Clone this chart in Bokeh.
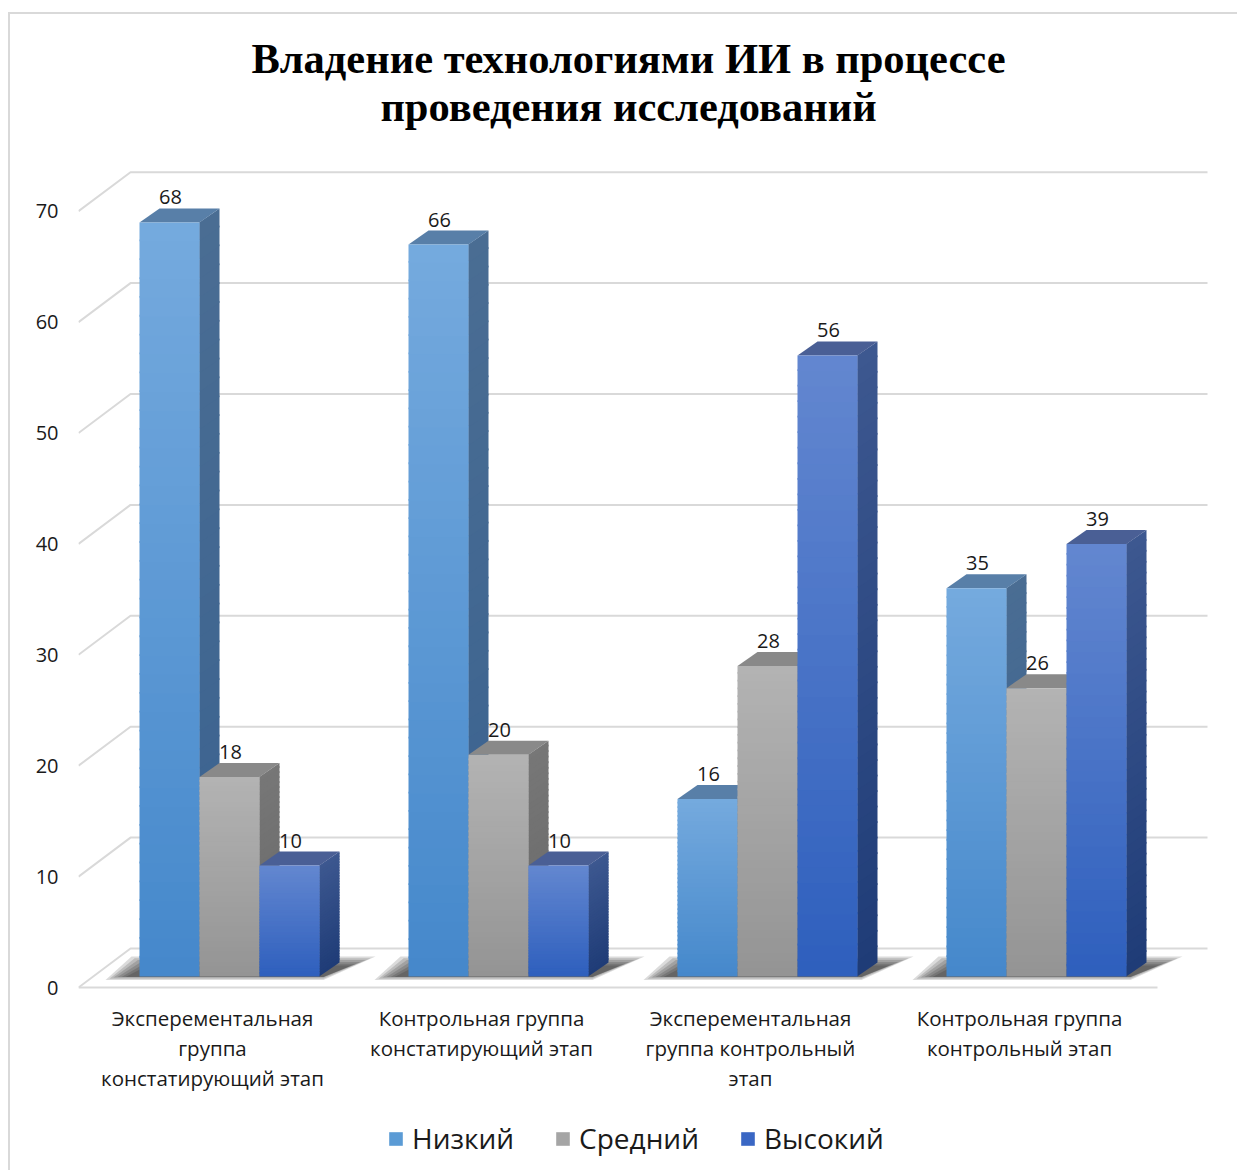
import numpy as np
from bokeh.plotting import figure
from bokeh.models import Range1d, FixedTicker, Legend, LegendItem, ColumnDataSource
from bokeh.core.properties import value
from bokeh.embed import file_html
from bokeh.resources import INLINE

# ---------------- data ----------------
title_lines = ["Владение технологиями ИИ в процессе", "проведения исследований"]
categories = [
    "Эксперементальная\nгруппа\nконстатирующий этап",
    "Контрольная группа\nконстатирующий этап",
    "Эксперементальная\nгруппа контрольный\nэтап",
    "Контрольная группа\nконтрольный этап",
]
series_names = ["Низкий", "Средний", "Высокий"]
low = [68, 66, 16, 35]
mid = [18, 20, 28, 26]
high = [10, 10, 56, 39]
y_ticks = [0, 10, 20, 30, 40, 50, 60, 70]

series_values = [low, mid, high]

# ---------------- style ----------------
# (front top, front bottom, top face, side top, side bottom, legend)
palette = [
    ("#75aade", "#4588cb", "#587fa8", "#4a6d93", "#3a6290", "#5b9bd5"),
    ("#b3b3b3", "#949494", "#898989", "#777777", "#686868", "#a5a5a5"),
    ("#6387d0", "#2e5fbd", "#4a5f95", "#3d5890", "#1f3c77", "#3a67c4"),
]
TXT = "#1a1a1a"
SANS = "Open Sans"

W, H = 1229, 1158
FX0, FY0 = 10, 14          # page origin of figure content
ML = 68                    # left border (axis area)
PXG = 269.0                # pixels per category step
PXU = 11.09                # pixels per value unit
GX0 = 212                  # page x of first category (front plane)
FLOOR_Y = 987              # page y of value 0 on front plane

frame_left = FX0 + ML
frame_bottom = FY0 + H
x_start = (frame_left - GX0) / PXG
x_end = x_start + (W - ML) / PXG
y_end = (FLOOR_Y - FY0) / PXU
y_start = y_end - H / PXU


def px_x(px):
    return (px - GX0) / PXG


def px_y(py):
    return (FLOOR_Y - py) / PXU


def ddx(px):
    return px / PXG


def ddy(px):
    return px / PXU


def hex2rgb(h):
    h = h.lstrip("#")
    return np.array([int(h[i:i + 2], 16) for i in (0, 2, 4)], dtype=float)


def lerp(c_top, c_bot, f):
    a, b = hex2rgb(c_bot), hex2rgb(c_top)
    c = a + (b - a) * f
    return "#%02x%02x%02x" % tuple(int(round(v)) for v in c)


p = figure(
    width=W, height=H,
    x_range=Range1d(x_start, x_end), y_range=Range1d(y_start, y_end),
    output_backend="svg", toolbar_location=None,
    x_axis_location=None, y_axis_location="left",
    min_border_left=ML, min_border_right=0, min_border_top=0, min_border_bottom=0,
    margin=(12, 0, 0, 8),
)
p.styles = {"border-left": "2px solid #d9d9d9", "border-top": "2px solid #d9d9d9"}
p.outline_line_color = None
p.grid.visible = False
p.background_fill_color = "white"
p.border_fill_color = "white"

ax = p.yaxis[0]
ax.ticker = FixedTicker(ticks=y_ticks)
ax.axis_line_color = None
ax.major_tick_line_color = None
ax.minor_tick_line_color = None
ax.major_tick_out = 0
ax.major_tick_in = 0
ax.major_label_standoff = 20
ax.major_label_text_font = SANS
ax.major_label_text_font_size = "20px"
ax.major_label_text_color = TXT

# ---------------- walls / gridlines ----------------
WALL_DX, WALL_DY = 52, 39
xs, ys = [], []
for t in y_ticks:
    xs.append([px_x(78), px_x(78) + ddx(WALL_DX), px_x(1207)])
    ys.append([t, t + ddy(WALL_DY), t + ddy(WALL_DY)])
xs.append([px_x(78), px_x(1157)])
ys.append([0, 0])
p.multi_line(xs=xs, ys=ys, line_color="#d9d9d9", line_width=2)

# ---------------- bar geometry ----------------
BAR_OX, BAR_OY = 17, 11     # front face offset from the front plane
BW = 60                     # bar width
BDX, BDY = 20, 14           # bar depth
n_series = len(series_values)
group_w = BW * n_series

# soft shadows on the floor
for layer in range(6):
    sx, sy = [], []
    g = layer * 4
    for i in range(len(categories)):
        x_left = i + ddx(BAR_OX - group_w / 2)
        x_right = x_left + ddx(group_w)
        b = ddy(BAR_OY)
        bot = b - ddy(max(3.5 - g * 0.3, 0.5))
        top = b + ddy(20 - g * 0.45)
        sx.append([x_left - ddx(34 - g), x_right + ddx(4),
                   x_right + ddx(BDX + 36 - g * 1.2), x_left + ddx(-8 + g * 0.8)])
        sy.append([bot, bot, top, top])
    p.patches(xs=sx, ys=sy, fill_color="black", fill_alpha=0.14, line_color=None)

N = 40
OVL = 0.16
for j, vals in enumerate(series_values):
    ftop, fbot, topc, stop_, sbot, _ = palette[j]
    fl, fr, fb, ft, fc = [], [], [], [], []
    side_x, side_y, side_c = [], [], []
    top_x, top_y = [], []
    for i, v in enumerate(vals):
        xl = i + ddx(BAR_OX - group_w / 2 + j * BW)
        xr = xl + ddx(BW)
        b = ddy(BAR_OY)
        t = v + ddy(BAR_OY)
        step = (t - b) / N
        for k in range(N):
            y0 = b + k * step
            y1 = min(y0 + step + OVL, t)
            f = (k + 0.5) / N
            fl.append(xl); fr.append(xr); fb.append(y0); ft.append(y1)
            fc.append(lerp(ftop, fbot, f))
            side_x.append([xr - ddx(0.3), xr + ddx(BDX), xr + ddx(BDX), xr - ddx(0.3)])
            side_y.append([y0, y0 + ddy(BDY), y1 + ddy(BDY), y1])
            side_c.append(lerp(stop_, sbot, f))
        top_x.append([xl, xr, xr + ddx(BDX), xl + ddx(BDX)])
        top_y.append([t, t, t + ddy(BDY), t + ddy(BDY)])
    p.patches(xs=side_x, ys=side_y, fill_color=side_c, line_color=None)
    p.patches(xs=top_x, ys=top_y, fill_color=topc, line_color=None)
    p.quad(left=fl, right=fr, bottom=fb, top=ft, fill_color=fc, line_color=None)

# value labels
lx, ly, lt = [], [], []
for j, vals in enumerate(series_values):
    for i, v in enumerate(vals):
        xl = i + ddx(BAR_OX - group_w / 2 + j * BW)
        lx.append(xl + ddx(BW / 2 + 1))
        ly.append(v + ddy(BAR_OY) + ddy(25))
        lt.append(str(v))
p.text(x=lx, y=ly, text=lt, text_align="center", text_baseline="middle",
       text_font=value(SANS), text_font_size=value("20px"), text_color=TXT)

# category labels
p.text(x=list(range(len(categories))), y=[px_y(1003)] * len(categories), text=categories,
       text_align="center", text_baseline="top", text_line_height=1.08,
       text_font=value(SANS), text_font_size=value("20.5px"), text_color=TXT)

# title
p.text(x=[px_x(628)] * 2, y=[px_y(58), px_y(106)], text=title_lines,
       text_align="center", text_baseline="alphabetic",
       text_font=value("Liberation Serif"), text_font_style="bold",
       text_font_size=value("42.5px"), text_color="black")

# legend
items = []
for j, name in enumerate(series_names):
    src = ColumnDataSource(dict(left=[x_start - 3], right=[x_start - 2],
                                top=[y_start - 3], bottom=[y_start - 4]))
    r = p.quad(left="left", right="right", top="top", bottom="bottom", source=src,
               fill_color=palette[j][5], line_color=None)
    items.append(LegendItem(label=name, renderers=[r]))
legend = Legend(items=items, orientation="horizontal",
                location=(387 - frame_left, frame_bottom - 1157),
                glyph_width=17, glyph_height=17, label_standoff=8, spacing=40,
                padding=0, margin=0, border_line_color=None, background_fill_alpha=0,
                label_text_font=SANS, label_text_font_size="28px", label_text_color=TXT)
p.add_layout(legend)

open("out.html", "w").write(file_html(p, INLINE))
